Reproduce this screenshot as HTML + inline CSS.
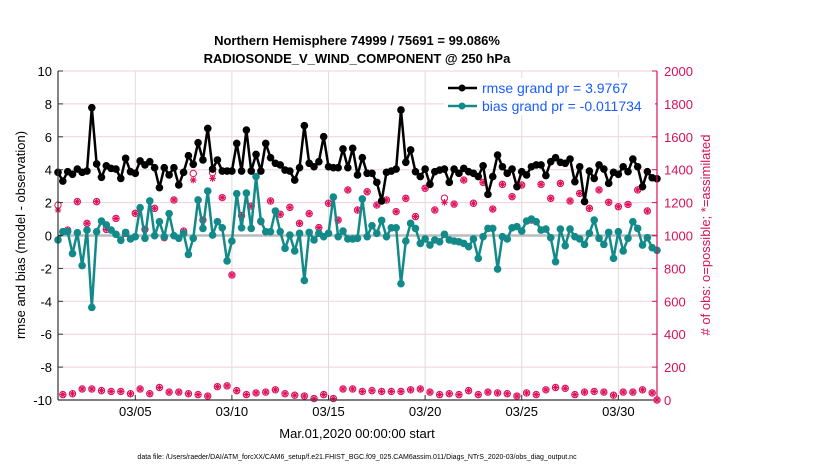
<!DOCTYPE html>
<html><head><meta charset="utf-8"><style>
body{margin:0;background:#fff;width:830px;height:470px;overflow:hidden;font-family:"Liberation Sans",sans-serif}
</style></head><body>
<svg id="chart" width="830" height="470" xmlns="http://www.w3.org/2000/svg" font-family="Liberation Sans, sans-serif">
<text x="357" y="45" text-anchor="middle" font-size="13" font-weight="bold">Northern Hemisphere 74999 / 75691 = 99.086%</text>
<text x="357" y="63" text-anchor="middle" font-size="13" font-weight="bold">RADIOSONDE_V_WIND_COMPONENT @ 250 hPa</text>
<g id="grid"></g>
<g id="marks"></g>
<g id="axes"></g>
<text transform="translate(25,235) rotate(-90)" text-anchor="middle" font-size="13">rmse and bias (model - observation)</text>
<text transform="translate(710,235) rotate(-90)" text-anchor="middle" font-size="13" fill="#d9105a"># of obs: o=possible; *=assimilated</text>
<text x="357" y="438" text-anchor="middle" font-size="13">Mar.01,2020 00:00:00 start</text>
<text x="357" y="459" text-anchor="middle" font-size="7">data file: /Users/raeder/DAI/ATM_forcXX/CAM6_setup/f.e21.FHIST_BGC.f09_025.CAM6assim.011/Diags_NTrS_2020-03/obs_diag_output.nc</text>
<g id="legend"></g>
</svg>
<script>
const rmse=[3.84,3.31,3.88,3.72,4.04,3.84,3.92,7.77,4.35,3.54,4.24,4.08,4.04,3.47,4.69,3.88,3.78,4.53,4.29,4.49,4.12,2.91,4.12,3.68,4.12,3.07,3.84,4.85,4.33,5.64,4.59,6.51,
4.04,4.59,3.92,3.92,3.92,5.60,3.92,6.41,3.92,4.93,3.92,5.60,4.73,4.39,4.29,3.98,3.92,3.37,4.12,6.68,4.39,4.18,4.49,6.01,4.18,4.12,4.12,5.26,4.12,5.30,3.68,
4.73,3.78,3.78,3.23,2.10,3.84,3.92,4.04,7.63,4.45,5.20,3.88,3.58,4.04,3.11,3.88,3.98,4.04,3.23,4.04,3.78,4.08,3.88,3.78,3.58,4.24,2.50,3.58,4.89,4.18,3.78,
4.04,2.97,3.88,3.68,4.18,4.29,4.29,3.64,4.49,4.73,4.45,4.39,4.65,3.27,4.18,2.06,3.92,3.47,4.29,4.04,3.17,3.84,3.72,4.18,3.88,4.65,4.18,2.97,3.88,3.51,3.45];
const bias=[-0.27,0.23,0.23,-1.10,0.17,-1.83,0.33,-4.37,0.23,0.88,0.64,0.33,0.07,-0.29,0.19,-0.21,-0.07,1.69,-0.17,2.10,-0.01,0.84,-0.07,1.33,-0.01,-0.17,0.13,-1.15,-0.17,2.16,0.43,2.70,
0.03,0.84,0.47,-1.55,-0.34,2.54,0.47,2.58,0.43,3.58,0.88,0.23,0.23,1.49,0.23,-0.78,0.03,-0.94,0.13,-2.73,0.19,-0.27,0.13,-0.07,0.13,2.34,-0.07,0.27,-0.21,-0.21,-0.17,
2.22,-0.07,0.60,0.13,0.92,-0.07,0.47,0.47,-2.93,-0.34,0.74,0.43,-0.48,-0.21,-0.58,-0.27,-0.38,0.07,-0.27,-0.34,-0.38,-0.48,-0.68,-0.21,-1.39,-0.07,0.43,0.43,-2.04,-0.07,-0.21,
0.47,0.54,0.27,0.88,1.00,0.84,0.33,0.39,-0.13,-1.59,0.39,-0.62,0.39,-0.07,-0.21,-0.54,0.13,0.94,-0.17,-0.54,0.19,-1.39,0.23,-0.94,-0.17,0.84,0.43,-0.58,-0.13,-0.74,-0.9];
const obsEven=[1155,1033,1206,1074,1206,1037,1104,1013,1135,1037,1165,987,1216,1027,1337,1094,
1347,1230,760,1121,1179,1084,1210,1129,1171,1074,1133,1048,1196,1094,1277,1155,
1266,1185,1216,1145,1226,1115,1287,1155,1202,1191,1337,1196,1323,1161,1311,
1236,1307,1094,1311,1226,1317,1210,1256,1165,1277,1202,1175,1189,1277,1149,0];
const obsOdd=[33,38,67,67,57,52,52,38,67,38,76,48,48,38,33,24,81,86,57,33,43,48,62,38,29,24,9,33,9,67,67,52,57,52,52,52,62,67,48,33,38,33,57,33,48,43,38,24,43,33,62,76,71,33,48,52,48,29,48,48,62,43];
const possibleExtra=[30,0,0,0,0,0,0,0,0,0,0,0,0,0,40,0,35,0,0,0,0,0,0,0,0,0,0,0,0,0,0,0,0,0,0,0,0,0,0,0,25,0,0,0,0,0,0,0,0,0,0,0,0,0,0,0,0,0,0,0,0,0,0];
const xTicks=[4,9,14,19,24,29];
const xTickLabels=["03/05","03/10","03/15","03/20","03/25","03/30"];
const yTicks=[-10,-8,-6,-4,-2,0,2,4,6,8,10];
const rTicks=[0,200,400,600,800,1000,1200,1400,1600,1800,2000];

const L=58,R=657,T=71,B=400,NS="http://www.w3.org/2000/svg";
const xs=t=>L+t*(R-L)/31;
const ys=v=>B-(v+10)*(B-T)/20;
const yr=c=>B-c*(B-T)/2000;
function mk(tag,at,parent){const e=document.createElementNS(NS,tag);for(const k in at)e.setAttribute(k,at[k]);parent.appendChild(e);return e;}
const grid=document.getElementById('grid'),marks=document.getElementById('marks'),axes=document.getElementById('axes'),leg=document.getElementById('legend');
yTicks.forEach(v=>{const l=mk('line',{x1:L,x2:R,y1:ys(v),y2:ys(v),stroke:'#f2cfdc','stroke-width':1},grid);

});
xTicks.forEach((t,i)=>{const l=mk('line',{x1:xs(t),x2:xs(t),y1:T,y2:B,stroke:'#dcdcdc','stroke-width':1},grid);


const tx=mk('text',{x:xs(t),y:416,'text-anchor':'middle','font-size':13},axes);tx.textContent=xTickLabels[i];


const tk=mk('line',{x1:xs(t),x2:xs(t),y1:B,y2:B-5,stroke:'#333'},axes);

});
const z=mk('line',{x1:L,x2:R,y1:ys(0),y2:ys(0),stroke:'#bbb','stroke-width':2.5},grid);


const obsT=[],obsV=[];
for(let i=0;i<125;i++){const v=(i%2===0)?obsEven[i/2]:obsOdd[(i-1)/2];obsT.push(i*0.25);obsV.push(v);}
obsT.forEach((t,i)=>{const cx=xs(t),cy=yr(obsV[i]);
const ex=(i%2===0)?(possibleExtra[i/2]||0):0;
const c=mk('circle',{cx:cx,cy:yr(obsV[i]+ex),r:3.2,fill:'#fff',stroke:'#e0105c','stroke-width':1},marks);


const g=mk('path',{d:`M${cx-3.3},${cy}h6.6M${cx},${cy-3.3}v6.6M${cx-2.4},${cy-2.4}l4.8,4.8M${cx-2.4},${cy+2.4}l4.8,-4.8`,stroke:'#e0105c','stroke-width':1.1},marks);

});
function series(vals,color,name){const pts=vals.map((v,i)=>xs(i*0.25)+','+ys(v)).join(' ');
const pl=mk('polyline',{points:pts,fill:'none',stroke:color,'stroke-width':2.5,'stroke-linejoin':'round'},marks);


vals.forEach((v,i)=>{const c=mk('circle',{cx:xs(i*0.25),cy:ys(v),r:3.8,fill:color},marks);

});}
series(bias,'#138a8a','bias');
series(rmse,'#000','rmse');
mk('line',{x1:L,x2:L,y1:T,y2:B,stroke:'#333','stroke-width':1.2},axes);
mk('line',{x1:L,x2:R,y1:B,y2:B,stroke:'#333','stroke-width':1.2},axes);
mk('line',{x1:R,x2:R,y1:T,y2:B,stroke:'#d9105a','stroke-width':1.2},axes);
yTicks.forEach(v=>{const tk=mk('line',{x1:L,x2:L+5,y1:ys(v),y2:ys(v),stroke:'#333'},axes);


const tx=mk('text',{x:52,y:ys(v)+5,'text-anchor':'end','font-size':13},axes);tx.textContent=v;

});
rTicks.forEach(c=>{const tk=mk('line',{x1:R,x2:R-5,y1:yr(c),y2:yr(c),stroke:'#d9105a'},axes);


const tx=mk('text',{x:664,y:yr(c)+5,'font-size':13,fill:'#d9105a'},axes);tx.textContent=c;

});
mk('rect',{x:444,y:78,width:211,height:37,fill:'#fff'},leg);
[['rmse grand pr = 3.9767','#000',88,'legend-entry-rmse'],['bias grand pr = -0.011734','#138a8a',106,'legend-entry-bias']].forEach(e=>{
const g=mk('g',{},leg);


mk('line',{x1:448,x2:477,y1:e[2],y2:e[2],stroke:e[1],'stroke-width':2.5},g);
mk('circle',{cx:462,cy:e[2],r:3.5,fill:e[1]},g);
const t=mk('text',{x:482,y:e[2]+5,'font-size':14,fill:'#1a5cff'},g);t.textContent=e[0];});
</script>
</body></html>
